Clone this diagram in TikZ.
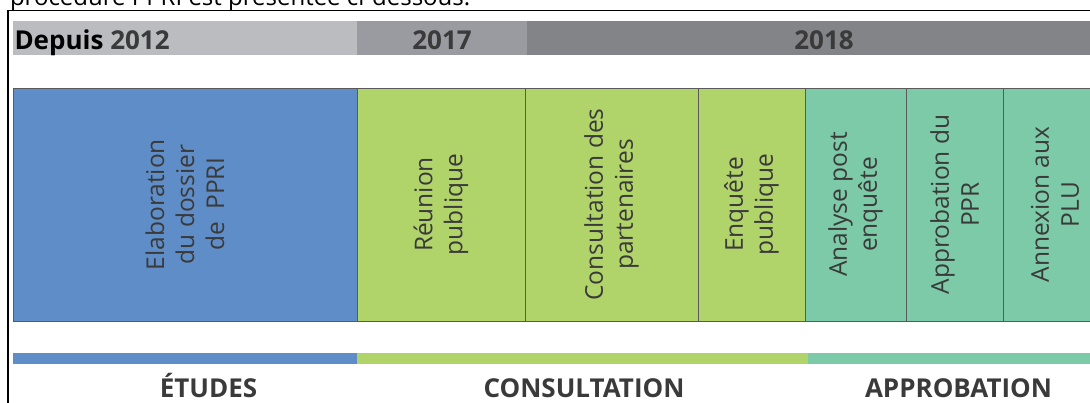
\documentclass[tikz,border=0pt]{standalone}
\usepackage{fontspec}
\setmainfont{Open Sans}
\usetikzlibrary{positioning}
\definecolor{ink}{HTML}{3A3A3A}
\definecolor{rule}{HTML}{5A5A5A}
\definecolor{hdlight}{HTML}{BBBCC0}
\definecolor{hdmid}{HTML}{999BA1}
\definecolor{hddark}{HTML}{838488}
\definecolor{etudes}{HTML}{5F8DC8}
\definecolor{consult}{HTML}{B1D46A}
\definecolor{approb}{HTML}{7DCAA8}

\begin{document}
\begin{tikzpicture}[x=1pt,y=-1pt,
  every node/.style={inner sep=0pt,outer sep=0pt},
  band/.style={anchor=north west,minimum height=34pt},
  box/.style={anchor=north west,draw=rule,line width=0.9pt,minimum height=233pt},
  bar/.style={anchor=north west,minimum height=11pt},
  steptxt/.style={rotate=90,align=center,text=ink,font=\fontsize{24.5}{30}\selectfont},
  yeartxt/.style={anchor=base,text=ink,font=\fontsize{26}{30}\selectfont\bfseries},
  phasetxt/.style={anchor=base,text=ink,font=\fontsize{26}{30}\selectfont\bfseries}]
\useasboundingbox (0,0) rectangle (1090,403);
\clip (0,0) rectangle (1090,403);
% sentence cut by the page edge
\node[anchor=base west,font=\fontsize{24}{28}\selectfont] (intro) at (10,6) {procédure PPRI est présentée ci-dessous.};
% frame
\coordinate (fa) at (8,403);
\coordinate (fb) at (8,10.5);
\coordinate (fc) at (1095,10.5);
\draw[line width=1.2pt] (fa) -- (fb) -- (fc);
% years
\node[band,fill=hdlight,minimum width=344pt] (y12) at (13,21) {};
\node[band,fill=hdmid,minimum width=170pt] (y17) at (357,21) {};
\node[band,fill=hddark,minimum width=570pt] (y18) at (527,21) {};
\node[yeartxt,anchor=base west] (y12t) at (14.5,50) {\textcolor{black}{Depuis} 2012};
\node[yeartxt] (y17t) at (442,50) {2017};
\node[yeartxt] (y18t) at (824,50) {2018};
% steps
\node[box,fill=etudes,minimum width=344pt] (elab) at (13,88) {};
\node[box,fill=consult,minimum width=168pt] (reun) at (357,88) {};
\node[box,fill=consult,minimum width=173pt] (cons) at (525,88) {};
\node[box,fill=consult,minimum width=107pt] (enq) at (698,88) {};
\node[box,fill=approb,minimum width=101pt] (anal) at (805,88) {};
\node[box,fill=approb,minimum width=97pt] (appr) at (906,88) {};
\node[box,fill=approb,minimum width=104pt] (annx) at (1003,88) {};
\node[steptxt] (elabt) at (elab) {Elaboration\\du dossier\\de~ PPRI};
\node[steptxt] (reunt) at (reun) {Réunion\\publique};
\node[steptxt] (const) at (cons) {Consultation des\\partenaires};
\node[steptxt] (enqt) at (enq) {Enquête\\publique};
\node[steptxt] (analt) at (anal) {Analyse post\\enquête};
\node[steptxt] (apprt) at (appr) {Approbation du\\PPR};
\node[steptxt] (annxt) at (annx) {Annexion aux\\PLU};
% phases
\node[bar,fill=etudes,minimum width=344pt] (etb) at (13,353) {};
\node[bar,fill=consult,minimum width=451pt] (cob) at (357,353) {};
\node[bar,fill=approb,minimum width=290pt] (apb) at (808,353) {};
\node[phasetxt] (ett) at (208.5,397) {ÉTUDES};
\node[phasetxt] (cot) at (584,397) {CONSULTATION};
\node[phasetxt] (apt) at (958.5,397) {APPROBATION};
\end{tikzpicture}
\end{document}
